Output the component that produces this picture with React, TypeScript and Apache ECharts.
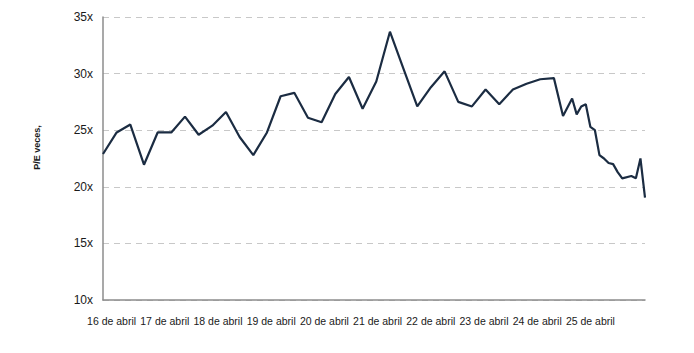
import React, { useEffect, useRef } from "react";
import * as echarts from "echarts";

// x position (sampling units) and P/E values
const xPos: number[] = [
  0, 3, 6, 9, 12, 15, 18, 21, 24, 27, 30, 33, 36, 39, 42, 45, 48, 51, 54, 57,
  60, 63, 66, 69, 72, 75, 78, 81, 84, 87, 90, 93, 96, 99,
  101, 103, 104, 105, 106, 107, 108, 109, 110, 111, 112, 113, 114, 116, 117, 118, 119,
];
const peValues: number[] = [
  22.9, 24.8, 25.5, 21.95, 24.8, 24.8, 26.2, 24.6, 25.4, 26.6, 24.4, 22.8, 24.8, 28.0, 28.3, 26.1, 25.7, 28.2, 29.7, 26.9,
  29.3, 33.7, 30.4, 27.1, 28.8, 30.2, 27.5, 27.1, 28.6, 27.3, 28.6, 29.1, 29.5, 29.6,
  26.25, 27.8, 26.4, 27.1, 27.3, 25.3, 25.0, 22.8, 22.5, 22.1, 22.0, 21.3, 20.75, 20.95, 20.75, 22.5, 19.05,
];
const dateLabels: string[] = [
  "16 de abril", "17 de abril", "18 de abril", "19 de abril", "20 de abril",
  "21 de abril", "22 de abril", "23 de abril", "24 de abril", "25 de abril",
];
const yTicks = { min: 10, max: 35, interval: 5 };
const yName = "P/E veces,";

export default function App() {
  const ref = useRef<HTMLDivElement>(null);
  useEffect(() => {
    if (!ref.current) return;
    const chart = echarts.init(ref.current, null, { renderer: "svg" });
    const font = "Liberation Sans, Arial, sans-serif";
    chart.setOption({
      animation: false,
      backgroundColor: "#ffffff",
      grid: [
        { left: 103, right: 49, top: 17, bottom: 53 },
        { left: 85, width: 532, top: 17, bottom: 53 },
      ],
      xAxis: [
        {
          type: "value",
          gridIndex: 0,
          min: 0,
          max: 119,
          axisLine: { show: true, lineStyle: { color: "#8c8c8c", width: 1.5 } },
          axisTick: { show: false },
          axisLabel: { show: false },
          splitLine: { show: false },
        },
        {
          type: "category",
          gridIndex: 1,
          data: dateLabels,
          boundaryGap: true,
          axisLine: { show: false },
          axisTick: { show: false },
          splitLine: { show: false },
          axisLabel: {
            interval: 0,
            margin: 15,
            fontSize: 10.5,
            color: "#1a1a1a",
            fontFamily: font,
          },
        },
      ],
      yAxis: [
        {
          type: "value",
          gridIndex: 0,
          min: yTicks.min,
          max: yTicks.max,
          interval: yTicks.interval,
          name: yName,
          nameLocation: "middle",
          nameRotate: 90,
          nameGap: 62,
          nameTextStyle: {
            fontSize: 9,
            fontWeight: "bold",
            color: "#1a1a1a",
            fontFamily: font,
            padding: [0, 0, 0, 22],
          },
          axisLine: { show: true, lineStyle: { color: "#8c8c8c", width: 1.5 } },
          axisTick: { show: false },
          axisLabel: {
            formatter: "{value}x",
            fontSize: 12,
            margin: 10,
            color: "#1a1a1a",
            fontFamily: font,
          },
          splitLine: { show: true, lineStyle: { color: "#c8c8c8", width: 1.2, type: [6, 5] } },
        },
        { type: "value", gridIndex: 1, show: false },
      ],
      series: [
        {
          type: "line",
          xAxisIndex: 0,
          yAxisIndex: 0,
          data: xPos.map((x, i) => [x, peValues[i]]),
          showSymbol: false,
          lineStyle: { color: "#1b2c42", width: 2.2 },
        },
      ],
    });
    return () => chart.dispose();
  }, []);
  return (
    <div
      ref={ref}
      style={{ position: "fixed", left: 0, top: 0, width: 694, height: 353, background: "#fff" }}
    />
  );
}
